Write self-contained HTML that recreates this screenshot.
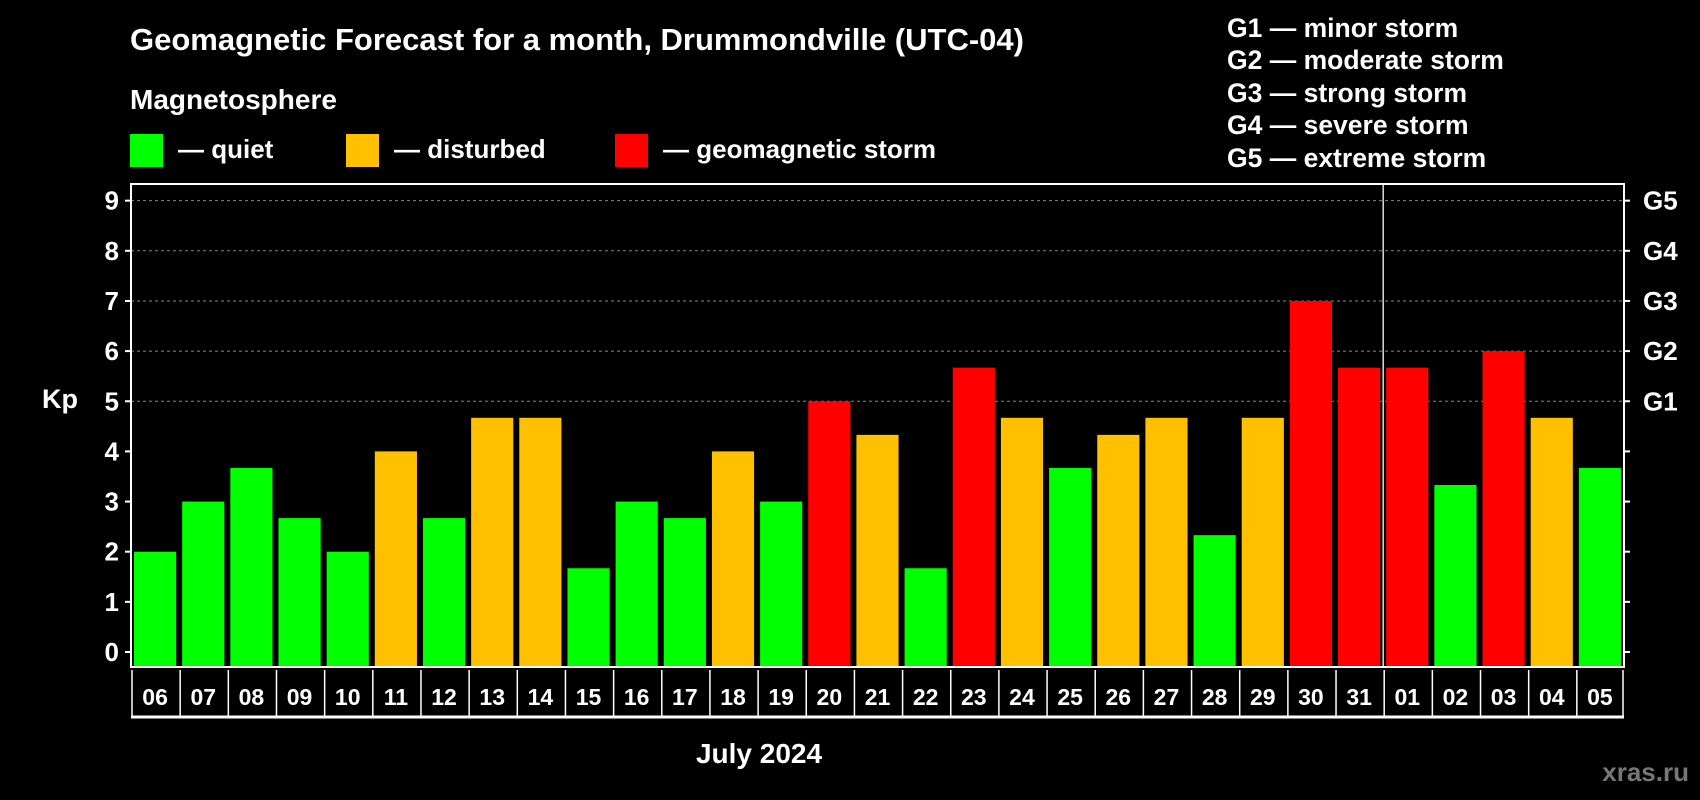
<!DOCTYPE html>
<html><head><meta charset="utf-8"><style>
body{margin:0;background:#000;width:1700px;height:800px;overflow:hidden}
svg{display:block;font-family:"Liberation Sans",Arial,sans-serif;font-weight:bold}
</style></head><body>
<svg id="c" width="1700" height="800">
<text x="130" y="50" fill="#fff" font-size="31">Geomagnetic Forecast for a month, Drummondville (UTC-04)</text>
<text x="130" y="109" fill="#fff" font-size="28">Magnetosphere</text>
<g><rect x="130" y="134" width="33" height="33" fill="#00ff00"/><text x="178" y="158" fill="#fff" font-size="26">— quiet</text></g>
<g><rect x="346" y="134" width="33" height="33" fill="#ffc000"/><text x="394" y="158" fill="#fff" font-size="26">— disturbed</text></g>
<g><rect x="615" y="134" width="33" height="33" fill="#ff0000"/><text x="663" y="158" fill="#fff" font-size="26">— geomagnetic storm</text></g>
<g fill="#fff" font-size="26.5">
<text x="1227" y="37">G1 — minor storm</text><text x="1227" y="69">G2 — moderate storm</text><text x="1227" y="102">G3 — strong storm</text><text x="1227" y="134">G4 — severe storm</text><text x="1227" y="167">G5 — extreme storm</text></g>
<text x="42" y="408" fill="#fff" font-size="27">Kp</text>
<text x="759" y="763" fill="#fff" font-size="28" text-anchor="middle">July 2024</text>
<text x="1689" y="781" fill="#777" font-size="26" text-anchor="end">xras.ru</text>
<g id="plot"></g>
</svg>
<script>
const categories=["06","07","08","09","10","11","12","13","14","15","16","17","18","19","20","21","22","23","24","25","26","27","28","29","30","31","01","02","03","04","05"];
const kpValues=[2,3,3.67,2.67,2,4,2.67,4.67,4.67,1.67,3,2.67,4,3,5,4.33,1.67,5.67,4.67,3.67,4.33,4.67,2.33,4.67,7,5.67,5.67,3.33,6,4.67,3.67];
const yTicks=[0,1,2,3,4,5,6,7,8,9];
const gLabels=[[5,"G1"],[6,"G2"],[7,"G3"],[8,"G4"],[9,"G5"]];
const NS="http://www.w3.org/2000/svg";
const L=131,R=1624,T=184,B=667,Y0=652,UNIT=50.15;
const slot=(R-L)/categories.length;
const y=v=>Y0-v*UNIT, x=i=>L+i*slot;
const g=document.getElementById('plot');
function mk(t,a,txt){const e=document.createElementNS(NS,t);for(const k in a)e.setAttribute(k,a[k]);if(txt!=null)e.textContent=txt;g.appendChild(e);return e;}
yTicks.forEach(v=>{
 if(v>=5){const l=mk('line',{x1:L,x2:R,y1:y(v),y2:y(v),stroke:'#888','stroke-dasharray':'3,3','stroke-width':1});
 
 }
 const t=mk('line',{x1:L-6,x2:L,y1:y(v),y2:y(v),stroke:'#fff','stroke-width':2});
 
 
 const t2=mk('line',{x1:R,x2:R+6,y1:y(v),y2:y(v),stroke:'#fff','stroke-width':2});
 
 
 const lb=mk('text',{x:L-12,y:y(v)+9,fill:'#fff','font-size':26,'text-anchor':'end'},v);
 
 
});
gLabels.forEach(([v,s])=>{
 const lb=mk('text',{x:R+19,y:y(v)+9,fill:'#fff','font-size':26},s);
 
 
});
kpValues.forEach((v,i)=>{
 const c=v>=5?'#ff0000':(v>=4?'#ffc000':'#00ff00');
 const r=mk('rect',{x:x(i)+3,y:y(v),width:slot-6,height:B-y(v),fill:c});
 
 
 const lb=mk('text',{x:x(i)+slot/2,y:705,fill:'#fff','font-size':23,'text-anchor':'middle'},categories[i]);
 
 
 const d=mk('line',{x1:x(i)+1,x2:x(i)+1,y1:670,y2:717,stroke:'#fff','stroke-width':1.5});
 
 
});
const dr=mk('line',{x1:R-1,x2:R-1,y1:670,y2:717,stroke:'#fff','stroke-width':1.5});


const mb=mk('line',{x1:L,x2:R,y1:717,y2:717,stroke:'#fff','stroke-width':3});


const sep=mk('line',{x1:x(26),x2:x(26),y1:T,y2:B,stroke:'#ddd','stroke-width':1.5});


const fr=mk('rect',{x:L,y:T,width:R-L,height:B-T,fill:'none',stroke:'#fff','stroke-width':2});


</script>
</body></html>
